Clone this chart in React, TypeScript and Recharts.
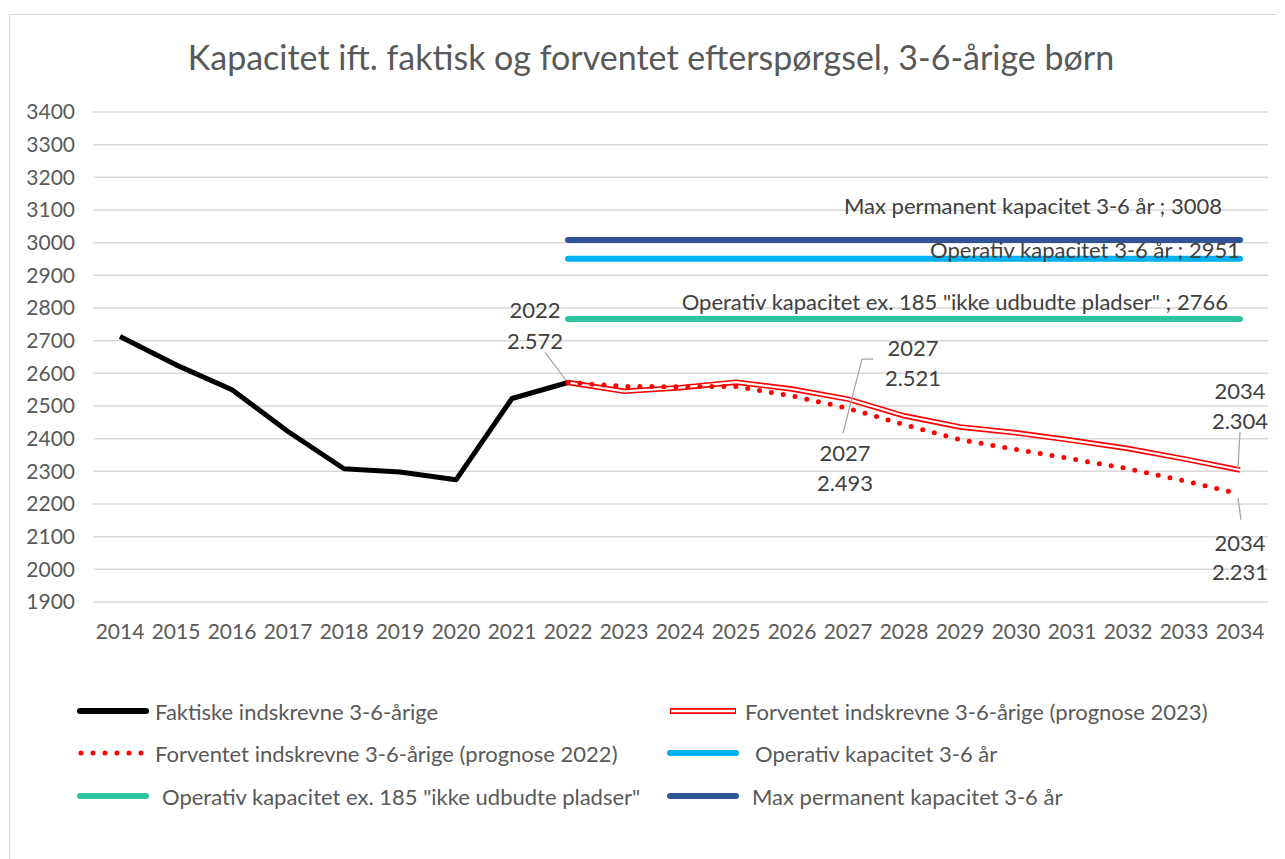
import { LineChart, Line, XAxis, YAxis, CartesianGrid, LabelList } from 'recharts'

// Kapacitet ift. faktisk og forventet efterspørgsel, 3-6-årige børn

const years = [2014, 2015, 2016, 2017, 2018, 2019, 2020, 2021, 2022, 2023, 2024, 2025, 2026, 2027, 2028, 2029, 2030, 2031, 2032, 2033, 2034]

const actual = [2713, 2626, 2550, 2422, 2308, 2298, 2274, 2523, 2572, null, null, null, null, null, null, null, null, null, null, null, null]
const prognose2023 = [null, null, null, null, null, null, null, null, 2572, 2545, 2556, 2573, 2552, 2521, 2470, 2436, 2418, 2395, 2370, 2338, 2304]
const prognose2022 = [null, null, null, null, null, null, null, null, 2572, 2560, 2559, 2560, 2531, 2493, 2443, 2397, 2367, 2338, 2308, 2271, 2231]
const operativ = [null, null, null, null, null, null, null, null, 2951, 2951, 2951, 2951, 2951, 2951, 2951, 2951, 2951, 2951, 2951, 2951, 2951]
const operativEx = [null, null, null, null, null, null, null, null, 2766, 2766, 2766, 2766, 2766, 2766, 2766, 2766, 2766, 2766, 2766, 2766, 2766]
const maxPermanent = [null, null, null, null, null, null, null, null, 3008, 3008, 3008, 3008, 3008, 3008, 3008, 3008, 3008, 3008, 3008, 3008, 3008]

const yTicks = [1900, 2000, 2100, 2200, 2300, 2400, 2500, 2600, 2700, 2800, 2900, 3000, 3100, 3200, 3300, 3400]

const data = years.map((year, i) => ({
  year,
  actual: actual[i],
  prognose2023: prognose2023[i],
  prognose2022: prognose2022[i],
  operativ: operativ[i],
  operativEx: operativEx[i],
  maxPermanent: maxPermanent[i],
}))

const FONT = "Lato, 'Liberation Sans', sans-serif"
const GREY = "#595959"
const LABEL = "#404040"
const LEADER = "#a6a6a6"

const fmt = (v: number) => `${Math.floor(v / 1000)}.${String(v % 1000).padStart(3, '0')}`

type Callout = { dx: number; dy1: number; dy2: number; leader?: number[][] }

// callouts keyed by point index
const callouts2023: Record<number, Callout> = {
  8: { dx: -33, dy1: -73, dy2: -42, leader: [[-23, -30], [-2, -2]] },
  13: { dx: 65, dy1: -52, dy2: -22, leader: [[-5, 34], [14, -40], [25, -40]] },
  20: { dx: 0, dy1: -80, dy2: -50, leader: [[0, -38], [-2, -2]] },
}
const callouts2022: Record<number, Callout> = {
  13: { dx: -3, dy1: 44, dy2: 74 },
  20: { dx: 0, dy1: 49, dy2: 78, leader: [[-2, 4], [1, 26]] },
}

const makeCallout = (map: Record<number, Callout>) => (props: any) => {
  const { x, y, index, value } = props
  const c = map[index]
  if (!c || value == null) return null
  return (
    <g>
      {c.leader && (
        <polyline
          points={c.leader.map(([px, py]) => `${x + px},${y + py}`).join(' ')}
          fill="none"
          stroke={LEADER}
          strokeWidth={1.3}
        />
      )}
      <text x={x + c.dx} y={y + c.dy1} textAnchor="middle" dominantBaseline="central" fill={LABEL} fontSize={22} fontFamily={FONT}>
        {years[index]}
      </text>
      <text x={x + c.dx} y={y + c.dy2} textAnchor="middle" dominantBaseline="central" fill={LABEL} fontSize={22} fontFamily={FONT}>
        {fmt(value)}
      </text>
    </g>
  )
}

const makeEndLabel = (name: string, dx: number, dy: number) => (props: any) => {
  const { x, y, index, value } = props
  if (index !== years.length - 1 || value == null) return null
  return (
    <text x={x + dx} y={y + dy} textAnchor="end" dominantBaseline="central" fill={LABEL} fontSize={22} fontFamily={FONT}>
      {`${name} ; ${value}`}
    </text>
  )
}

function LegendItem({ kind, color, label, x, y, textX }: { kind: string; color: string; label: string; x: number; y: number; textX: number }) {
  return (
    <div style={{ position: "absolute", left: x, top: y - 14, height: 28, display: "flex", alignItems: "center" }}>
      <svg width={72} height={12} style={{ display: "block" }}>
        {kind === "solid" && <line x1={3} y1={6} x2={69} y2={6} stroke={color} strokeWidth={6} strokeLinecap="round" />}
        {kind === "double" && (
          <>
            <line x1={3} y1={6} x2={69} y2={6} stroke={color} strokeWidth={6} />
            <line x1={4} y1={6} x2={68} y2={6} stroke="#ffffff" strokeWidth={2.4} />
          </>
        )}
        {kind === "dots" && <line x1={4} y1={6} x2={69} y2={6} stroke={color} strokeWidth={5} strokeLinecap="round" strokeDasharray="0 12" />}
      </svg>
      <span style={{ position: "absolute", left: textX - x, whiteSpace: "nowrap", fontFamily: FONT, fontSize: 22, color: GREY }}>{label}</span>
    </div>
  )
}

export default function App() {
  return (
    <div style={{ position: "relative", width: 1277, height: 851, background: "#ffffff" }}>
      <div style={{ position: "absolute", left: 1, top: 6, width: 1274, height: 860, border: "1.5px solid #d9d9d9", boxSizing: "border-box" }} />
      <div style={{ position: "absolute", left: 0, width: 1286, top: 28, textAlign: "center", fontFamily: FONT, fontSize: 34, color: GREY, whiteSpace: "nowrap" }}>
        Kapacitet ift. faktisk og forventet efterspørgsel, 3-6-årige børn
      </div>
      <div style={{ position: "absolute", left: 0, top: 0 }}>
        <LineChart width={1277} height={680} data={data} margin={{ top: 104, right: 17, bottom: 56, left: 25 }}>
          <CartesianGrid vertical={false} stroke="#d9d9d9" strokeWidth={1.5} />
          <XAxis
            dataKey="year"
            axisLine={false}
            tickLine={false}
            tickSize={0}
            tickMargin={22}
            height={30}
            padding={{ left: 27, right: 28 }}
            interval={0}
            tick={{ fill: GREY, fontSize: 21, fontFamily: FONT }}
          />
          <YAxis
            domain={[1900, 3400]}
            ticks={yTicks}
            interval={0}
            axisLine={false}
            tickLine={false}
            tickSize={0}
            tickMargin={18}
            width={60}
            tick={{ fill: GREY, fontSize: 21, fontFamily: FONT }}
          />
          <Line dataKey="actual" stroke="#000000" strokeWidth={5} dot={false} isAnimationActive={false} strokeLinejoin="round" />
          <Line dataKey="prognose2023" stroke="#ff0000" strokeWidth={5.5} dot={false} isAnimationActive={false} />
          <Line dataKey="prognose2023" stroke="#ffffff" strokeWidth={2.2} dot={false} isAnimationActive={false}>
            <LabelList dataKey="prognose2023" content={makeCallout(callouts2023)} />
          </Line>
          <Line dataKey="prognose2022" stroke="#ff0000" strokeWidth={5} strokeDasharray="0 12" strokeLinecap="round" dot={false} isAnimationActive={false}>
            <LabelList dataKey="prognose2022" content={makeCallout(callouts2022)} />
          </Line>
          <Line dataKey="operativ" stroke="#00b0f0" strokeWidth={6} strokeLinecap="round" dot={false} isAnimationActive={false} />
          <Line dataKey="operativEx" stroke="#2ec4a0" strokeWidth={6} strokeLinecap="round" dot={false} isAnimationActive={false}>
            <LabelList dataKey="operativEx" content={makeEndLabel('Operativ kapacitet ex. 185 "ikke udbudte pladser"', -12, -18)} />
          </Line>
          <Line dataKey="maxPermanent" stroke="#2f5597" strokeWidth={6} strokeLinecap="round" dot={false} isAnimationActive={false}>
            <LabelList dataKey="maxPermanent" content={makeEndLabel('Max permanent kapacitet 3-6 år', -18, -35)} />
          </Line>
          <Line dataKey="operativ" stroke="none" dot={false} isAnimationActive={false} legendType="none">
            <LabelList dataKey="operativ" content={makeEndLabel('Operativ kapacitet 3-6 år', 0, -9)} />
          </Line>
        </LineChart>
      </div>
      <LegendItem kind="solid" color="#000000" label="Faktiske indskrevne 3-6-årige" x={69} y={703} textX={147} />
      <LegendItem kind="double" color="#ff0000" label="Forventet indskrevne 3-6-årige (prognose 2023)" x={659} y={703} textX={737} />
      <LegendItem kind="dots" color="#ff0000" label="Forventet indskrevne 3-6-årige (prognose 2022)" x={69} y={745} textX={147} />
      <LegendItem kind="solid" color="#00b0f0" label="Operativ kapacitet 3-6 år" x={659} y={745} textX={747} />
      <LegendItem kind="solid" color="#2ec4a0" label={'Operativ kapacitet ex. 185 "ikke udbudte pladser"'} x={69} y={788} textX={154} />
      <LegendItem kind="solid" color="#2f5597" label="Max permanent kapacitet 3-6 år" x={659} y={788} textX={744} />
    </div>
  )
}
